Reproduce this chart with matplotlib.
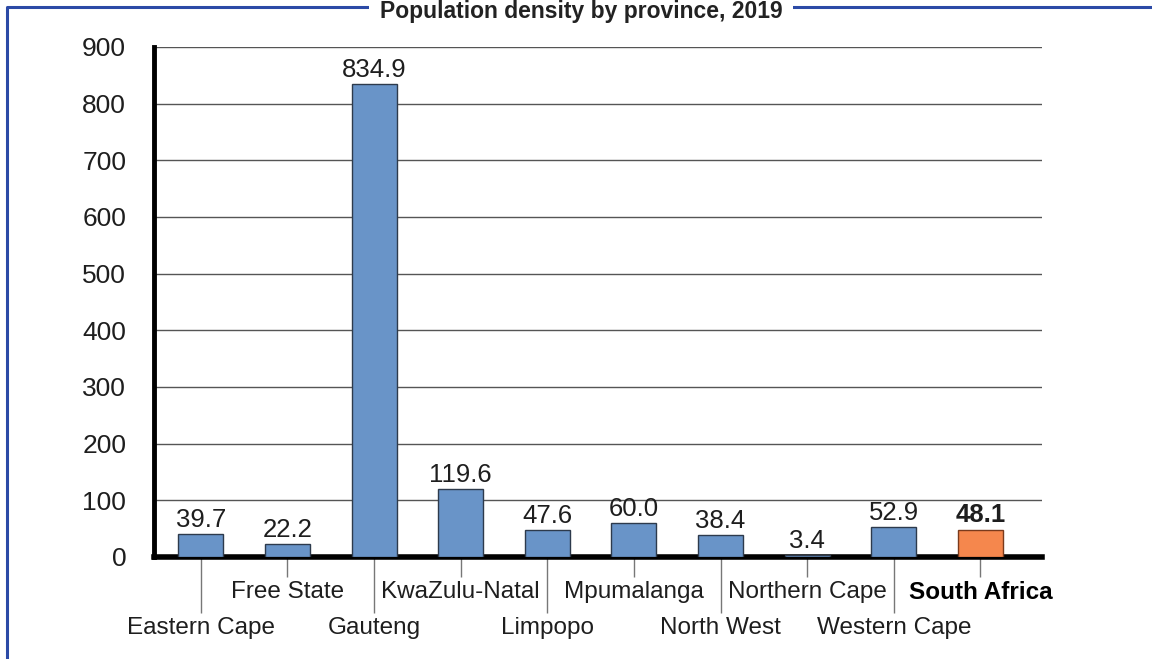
import matplotlib.pyplot as plt
from matplotlib.lines import Line2D
from matplotlib.ticker import FixedLocator, FixedFormatter

plt.rcParams['font.family'] = ['Liberation Sans', 'DejaVu Sans']

# data
provinces = [
    'Eastern Cape', 'Free State', 'Gauteng', 'KwaZulu-Natal', 'Limpopo',
    'Mpumalanga', 'North West', 'Northern Cape', 'Western Cape', 'South Africa'
]
density = [39.7, 22.2, 834.9, 119.6, 47.6, 60.0, 38.4, 3.4, 52.9, 48.1]
value_labels = ['39.7', '22.2', '834.9', '119.6', '47.6',
                '60.0', '38.4', '3.4', '52.9', '48.1']
y_ticks = [0, 100, 200, 300, 400, 500, 600, 700, 800, 900]
title = 'Population density by province, 2019'

blue = '#6994c8'
orange = '#f5874d'
frame_blue = '#2c4aa6'
text_color = '#1e1e1e'

fig = plt.figure(figsize=(11.52, 6.59), dpi=100)
ax = fig.add_axes([0.1337, 0.1548, 0.7708, 0.7739])

x = list(range(len(provinces)))
colors = [blue] * (len(provinces) - 1) + [orange]
edges = ['#2d3a4c'] * (len(provinces) - 1) + ['#7a3a1c']
ax.bar(x, density, width=0.52, color=colors, edgecolor=edges,
       linewidth=1.0, zorder=3)

for i, (v, lab) in enumerate(zip(density, value_labels)):
    ax.text(i, v + 4, lab, ha='center', va='bottom', fontsize=18.5,
            fontweight='bold' if i == len(provinces) - 1 else 'normal',
            color=text_color, zorder=4)

ax.set_xlim(-0.54, 9.71)
ax.set_ylim(0, 900)
ax.set_yticks(y_ticks)
ax.set_yticklabels([str(t) for t in y_ticks])
ax.tick_params(axis='y', length=0, pad=20, labelsize=19, labelcolor=text_color)
ax.yaxis.grid(True, color='#555555', linewidth=1.0, zorder=0)
ax.set_axisbelow(True)

# staggered category labels: even on a long tick, odd on a short one
even = [i for i in x if i % 2 == 0]
odd = [i for i in x if i % 2 == 1]
ax.xaxis.set_major_locator(FixedLocator(even))
ax.xaxis.set_major_formatter(FixedFormatter([provinces[i] for i in even]))
ax.xaxis.set_minor_locator(FixedLocator(odd))
ax.xaxis.set_minor_formatter(FixedFormatter([provinces[i] for i in odd]))
ax.tick_params(axis='x', which='major', length=40, width=1, color='#777777',
               pad=3, labelsize=17.5, labelcolor=text_color)
ax.tick_params(axis='x', which='minor', length=14.5, width=1, color='#777777',
               pad=3, labelsize=17.5, labelcolor=text_color)
for t in ax.xaxis.get_minorticklabels():
    if t.get_text() == 'South Africa':
        t.set_fontweight('bold')
        t.set_color('#000000')

for side in ['top', 'right']:
    ax.spines[side].set_visible(False)
ax.spines['left'].set_linewidth(3.5)
ax.spines['bottom'].set_linewidth(4)
ax.spines['left'].set_color('black')
ax.spines['bottom'].set_color('black')

# blue frame around the figure with the title sitting on its top edge
frame_x = [7 / 1152, 7 / 1152, 1.01]
frame_y = [-0.01, 1 - 7 / 659, 1 - 7 / 659]
fig.add_artist(Line2D(frame_x, frame_y, transform=fig.transFigure,
                      color=frame_blue, linewidth=2.2))
fig.text(581 / 1152, 1 - 18 / 659, title, ha='center', va='baseline',
         fontsize=16.5, fontweight='bold', color='#222222',
         bbox=dict(facecolor='white', edgecolor='none', pad=8))

fig.savefig('out.png', dpi=100)
plt.close(fig)
